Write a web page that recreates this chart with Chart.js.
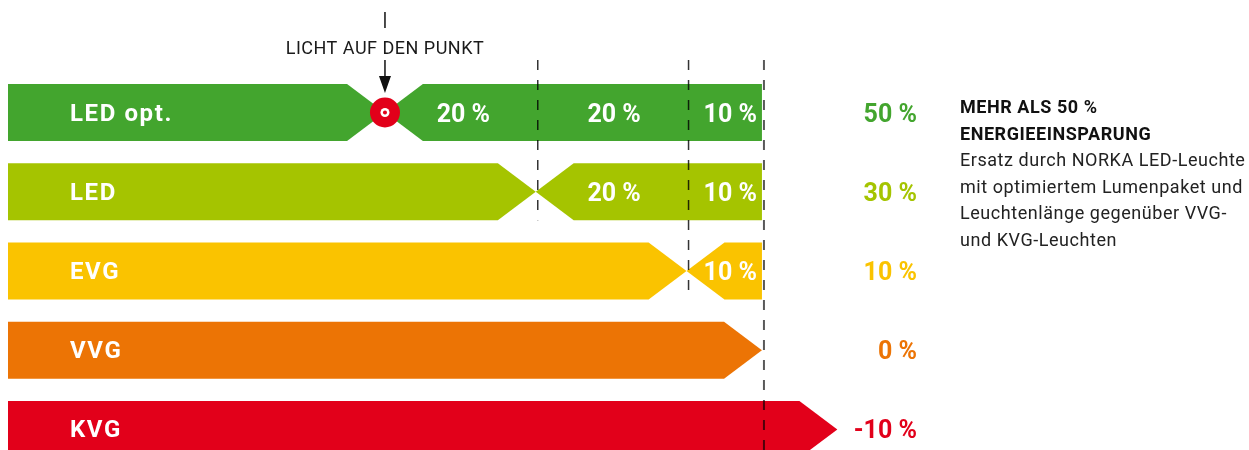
<!DOCTYPE html>
<html lang="de">
<head>
<meta charset="utf-8">
<script src="https://cdn.jsdelivr.net/npm/chart.js@4.4.1/dist/chart.umd.min.js"></script>
<style>
  html, body { margin: 0; padding: 0; background: #fff; overflow: hidden; }
  #wrap { position: relative; width: 1249px; height: 450px; }
  #note {
    position: absolute; left: 960px; top: 94px;
    font: 18px/26.5px Roboto, sans-serif; letter-spacing: 0.55px;
    color: #222; white-space: nowrap;
  }
  #note b { color: #111; font-weight: 700; }
</style>
</head>
<body>
<div id="wrap">
  <canvas id="chart" width="1249" height="450"></canvas>
  <div id="note"><b>MEHR ALS 50 %<br>ENERGIEEINSPARUNG</b><br>Ersatz durch NORKA LED-Leuchte<br>mit optimiertem Lumenpaket und<br>Leuchtenlänge gegenüber VVG-<br>und KVG-Leuchten</div>
</div>
<script>
// energy use relative to VVG (= 100 %)
const categories = ['LED opt.', 'LED', 'EVG', 'VVG', 'KVG'];
const consumption = [50, 70, 90, 100, 110];
const savingSteps = [[20, 20, 10], [20, 10], [10], [], []];
const savingTotals = [50, 30, 10, 0, -10];
const rowColors = ['#43a52e', '#a5c400', '#fac300', '#ec7405', '#e2001a'];
const guideValues = [70, 90, 100];
const guideLastRow = [1, 2, 4];
const spotlightText = 'LICHT AUF DEN PUNKT';

const sum = arr => arr.reduce((a, b) => a + b, 0);
const pct = v => v + ' %';

const FONT = 'Roboto, sans-serif';

const shapesPlugin = {
    id: 'shapes',
    beforeDatasetsDraw(chart) {
        const ctx = chart.ctx;
        chart.data.datasets.forEach((ds, di) => {
            const meta = chart.getDatasetMeta(di);
            meta.data.forEach((bar, k) => {
                const row = ds.data[k].y;
                const { x, y, base, height } = bar.getProps(['x', 'y', 'base', 'height'], true);
                const top = y - height / 2;
                const bottom = y + height / 2;
                const notch = height / 2 * 1.33;
                ctx.save();
                ctx.fillStyle = rowColors[row];
                ctx.beginPath();
                if (ds.shape === 'arrow') {
                    ctx.moveTo(base, top);
                    ctx.lineTo(x - notch, top);
                    ctx.lineTo(x, y);
                    ctx.lineTo(x - notch, bottom);
                    ctx.lineTo(base, bottom);
                } else {
                    ctx.moveTo(base, y);
                    ctx.lineTo(base + notch, top);
                    ctx.lineTo(x, top);
                    ctx.lineTo(x, bottom);
                    ctx.lineTo(base + notch, bottom);
                }
                ctx.closePath();
                ctx.fill();
                ctx.restore();
            });
        });
        return false;
    },
    afterDraw(chart) {
        const ctx = chart.ctx;
        const xs = chart.scales.x;
        const ys = chart.scales.y;
        const half = 28.5;

        // dashed guides
        guideValues.forEach((v, gi) => {
            const gx = xs.getPixelForValue(v) + 2;
            const y0 = ys.getPixelForValue(0) - half - 24;
            const y1 = ys.getPixelForValue(guideLastRow[gi]) + half;
            ctx.save();
            ctx.strokeStyle = gi === 2 ? 'rgba(0,0,0,0.65)' : 'rgba(0,0,0,0.8)';
            ctx.lineWidth = gi === 2 ? 2 : 1.5;
            ctx.setLineDash([10, 10]);
            ctx.beginPath();
            ctx.moveTo(gx, y0);
            ctx.lineTo(gx, Math.min(y1, chart.height));
            ctx.stroke();
            ctx.restore();
        });

        ctx.save();
        // row names
        ctx.fillStyle = '#fff';
        ctx.font = 'bold 24px ' + FONT;
        ctx.letterSpacing = '1.6px';
        ctx.textAlign = 'left';
        ctx.textBaseline = 'alphabetic';
        categories.forEach((c, i) => {
            ctx.fillText(c, 70, ys.getPixelForValue(i) + 8);
        });

        // step labels inside the savings part
        ctx.font = 'bold 25px ' + FONT;
        ctx.letterSpacing = '0px';
        savingSteps.forEach((steps, i) => {
            let a = consumption[i];
            steps.forEach(s => {
                const b = a + s;
                const y = ys.getPixelForValue(i) + 9;
                if (b >= 100) {
                    ctx.textAlign = 'right';
                    ctx.fillText(pct(s), xs.getPixelForValue(b) - 5, y);
                } else {
                    ctx.textAlign = 'center';
                    ctx.fillText(pct(s), (xs.getPixelForValue(a) + xs.getPixelForValue(b)) / 2 + 3, y);
                }
                a = b;
            });
        });

        // totals at the right
        ctx.textAlign = 'right';
        savingTotals.forEach((t, i) => {
            ctx.fillStyle = rowColors[i];
            ctx.fillText(pct(t), 917, ys.getPixelForValue(i) + 9);
        });
        ctx.restore();

        // spotlight marker
        const cx = xs.getPixelForValue(consumption[0]);
        const cy = ys.getPixelForValue(0);
        ctx.save();
        ctx.strokeStyle = '#111';
        ctx.fillStyle = '#111';
        ctx.lineWidth = 1.5;
        ctx.beginPath();
        ctx.moveTo(cx, 12);
        ctx.lineTo(cx, 28);
        ctx.moveTo(cx, 60);
        ctx.lineTo(cx, 78);
        ctx.stroke();
        ctx.beginPath();
        ctx.moveTo(cx - 6, 76);
        ctx.lineTo(cx + 6, 76);
        ctx.lineTo(cx, 93);
        ctx.closePath();
        ctx.fill();

        ctx.font = '18px ' + FONT;
        ctx.letterSpacing = '0.5px';
        ctx.fillStyle = '#1a1a1a';
        ctx.textAlign = 'center';
        ctx.fillText(spotlightText, cx, 54);

        ctx.fillStyle = '#e2001a';
        ctx.beginPath();
        ctx.arc(cx, cy, 15, 0, Math.PI * 2);
        ctx.fill();
        ctx.fillStyle = '#fff';
        ctx.beginPath();
        ctx.arc(cx, cy, 4.5, 0, Math.PI * 2);
        ctx.fill();
        ctx.fillStyle = '#e2001a';
        ctx.beginPath();
        ctx.arc(cx, cy, 2, 0, Math.PI * 2);
        ctx.fill();
        ctx.restore();
    }
};

new Chart(document.getElementById('chart'), {
    type: 'bar',
    data: {
        datasets: [
            {
                label: 'Verbrauch',
                shape: 'arrow',
                stack: 'row',
                barThickness: 57,
                data: consumption.map((v, i) => ({ x: [0, v], y: i }))
            },
            {
                label: 'Einsparung',
                shape: 'notch',
                stack: 'row',
                barThickness: 57,
                data: consumption
                    .map((v, i) => ({ x: [v, v + sum(savingSteps[i])], y: i }))
                    .filter(d => d.x[1] > d.x[0])
            }
        ]
    },
    options: {
        responsive: false,
        animation: false,
        indexAxis: 'y',
        layout: { padding: 0 },
        plugins: {
            legend: { display: false },
            tooltip: { enabled: false }
        },
        scales: {
            x: { type: 'linear', display: false, stacked: false, min: -1.06, max: 164.6 },
            y: {
                type: 'linear', display: false, reverse: true, offset: false,
                grid: { offset: false }, min: -1.42, max: 4.26
            }
        }
    },
    plugins: [shapesPlugin]
});
</script>
</body>
</html>
